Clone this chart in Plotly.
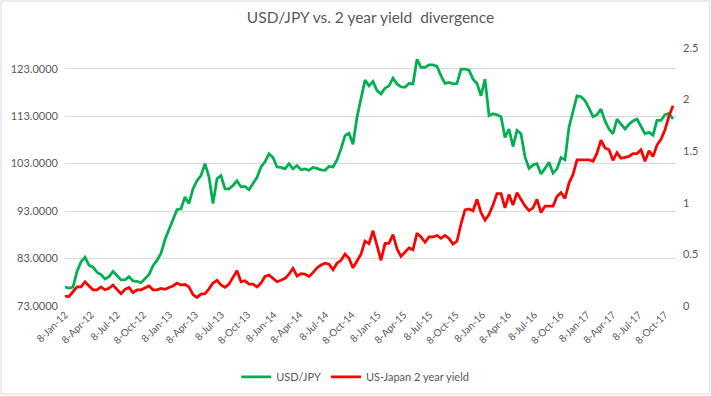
import pandas as pd
import plotly.graph_objects as go

# Biweekly observations starting 8-Jan-2012
start_date = "2012-01-08"
n_points = 153
dates = pd.date_range(start_date, periods=n_points, freq="14D")

usd_jpy = [
    77.0, 76.8, 77.0, 80.3, 82.3, 83.3, 81.6, 81.2, 80.1, 79.6,
    78.7, 79.2, 80.3, 79.4, 78.5, 78.5, 79.2, 78.3, 78.2, 77.9,
    78.7, 79.6, 81.5, 82.6, 84.1, 87.0, 89.1, 91.2, 93.3, 93.5,
    96.0, 94.6, 97.7, 99.4, 100.5, 103.0, 100.2, 94.6, 99.8, 100.5,
    97.7, 97.7, 98.4, 99.4, 98.1, 98.2, 97.5, 98.8, 100.1, 102.3,
    103.4, 105.1, 104.3, 102.3, 102.2, 101.9, 103.0, 101.9, 102.6, 101.7,
    101.9, 101.6, 102.2, 102.0, 101.7, 101.6, 102.4, 102.3, 103.8, 106.1,
    108.9, 109.4, 107.1, 112.8, 116.6, 120.6, 119.4, 120.3, 118.4, 117.7,
    118.9, 119.4, 121.0, 119.8, 119.2, 119.1, 119.9, 119.8, 125.0, 123.3,
    123.3, 123.8, 123.8, 123.5, 121.5, 119.9, 120.1, 119.8, 119.9, 122.9,
    122.9, 122.7, 120.8, 119.9, 117.3, 120.8, 113.1, 113.5, 113.3, 112.9,
    108.5, 110.3, 106.6, 110.0, 109.3, 104.4, 102.0, 102.7, 103.0, 100.8,
    102.0, 103.3, 101.0, 101.9, 104.3, 103.8, 110.7, 114.0, 117.3, 117.1,
    116.3, 114.7, 112.9, 113.3, 114.5, 112.0, 110.3, 109.3, 112.4, 111.3,
    110.3, 111.3, 112.0, 112.4, 110.8, 109.3, 109.6, 109.0, 112.1, 112.1,
    113.3, 113.6, 112.4,
]

us_japan_2y = [
    0.097, 0.092, 0.138, 0.185, 0.185, 0.235, 0.194, 0.157, 0.157, 0.185,
    0.157, 0.171, 0.203, 0.166, 0.120, 0.162, 0.180, 0.129, 0.157, 0.157,
    0.175, 0.194, 0.157, 0.157, 0.171, 0.162, 0.180, 0.194, 0.222, 0.203,
    0.208, 0.185, 0.111, 0.083, 0.115, 0.120, 0.166, 0.222, 0.249, 0.203,
    0.180, 0.212, 0.277, 0.342, 0.235, 0.245, 0.212, 0.212, 0.185, 0.222,
    0.286, 0.300, 0.268, 0.235, 0.249, 0.268, 0.309, 0.365, 0.291, 0.314,
    0.309, 0.286, 0.323, 0.369, 0.397, 0.415, 0.406, 0.351, 0.415, 0.443,
    0.503, 0.462, 0.369, 0.443, 0.503, 0.628, 0.605, 0.729, 0.591, 0.443,
    0.605, 0.609, 0.692, 0.554, 0.480, 0.526, 0.563, 0.545, 0.706, 0.669,
    0.618, 0.669, 0.669, 0.683, 0.655, 0.683, 0.655, 0.600, 0.628, 0.794,
    0.932, 0.941, 0.923, 1.034, 0.905, 0.831, 0.886, 0.978, 1.089, 1.089,
    0.951, 1.080, 0.978, 1.098, 1.034, 0.969, 0.923, 0.951, 1.034, 0.905,
    0.969, 0.969, 0.969, 1.061, 1.098, 1.043, 1.191, 1.274, 1.417, 1.417,
    1.417, 1.417, 1.403, 1.481, 1.606, 1.532, 1.514, 1.412, 1.486, 1.431,
    1.440, 1.449, 1.477, 1.477, 1.514, 1.403, 1.504, 1.449, 1.560, 1.615,
    1.708, 1.840, 1.940,
]

tick_dates = pd.date_range("2012-01-01", "2017-10-01", freq="3MS") + pd.Timedelta(days=7)
tick_labels = [f"{d.day}-{d.strftime('%b')}-{d.strftime('%y')}" for d in tick_dates]

left_ticks = [73, 83, 93, 103, 113, 123]
right_ticks = [0, 0.5, 1, 1.5, 2, 2.5]

FONT = "Lato, 'Open Sans', sans-serif"
GREY = "#595959"

fig = go.Figure()
fig.add_trace(go.Scatter(x=dates, y=usd_jpy, name="USD/JPY", mode="lines",
                         line=dict(color="#00B050", width=2.75)))
fig.add_trace(go.Scatter(x=dates, y=us_japan_2y, name="US-Japan 2 year yield", mode="lines",
                         line=dict(color="#FF0000", width=2.75), yaxis="y2"))

fig.update_layout(
    width=711, height=396,
    margin=dict(l=65, r=35, t=48, b=90, autoexpand=False),
    paper_bgcolor="white", plot_bgcolor="white",
    font=dict(family=FONT, color=GREY, size=11),
    title=dict(text="USD/JPY vs. 2 year yield  divergence", x=0.5, xref="paper",
               xanchor="center", y=0.955, yanchor="middle",
               font=dict(size=15.5, color=GREY, family=FONT)),
    xaxis=dict(type="date",
               range=["2012-01-08", "2017-11-15 12:00"],
               tickvals=list(tick_dates), ticktext=tick_labels,
               tickangle=-45, tickfont=dict(size=10, color=GREY),
               showgrid=False, zeroline=False, showline=False, ticks="",
               automargin=False),
    yaxis=dict(range=[73, 127.37], tickvals=left_ticks, tickformat=".4f",
               showgrid=True, gridcolor="#d9d9d9", gridwidth=1,
               zeroline=False, showline=False, ticks="", automargin=False,
               ticklabelstandoff=6, tickfont=dict(size=11, color=GREY)),
    yaxis2=dict(range=[0, 2.5], tickvals=right_ticks, overlaying="y", side="right",
                showgrid=False, zeroline=False, showline=False, ticks="", automargin=False,
                ticklabelstandoff=6, tickfont=dict(size=11, color=GREY)),
    legend=dict(orientation="h", x=0.475, xanchor="center", y=-0.275, yanchor="middle",
                font=dict(size=11, color=GREY), itemwidth=30, bgcolor="rgba(0,0,0,0)"),
    showlegend=True,
    shapes=[dict(type="rect", xref="paper", yref="paper",
                 x0=-0.1047, x1=1.0556, y0=-0.341, y1=1.182,
                 line=dict(color="#d9d9d9", width=1), fillcolor="rgba(0,0,0,0)", layer="below")],
)

fig.write_html("out.html",
               config={"displayModeBar": False},
               post_script="document.body.style.margin='0';document.body.style.overflow='hidden';")
